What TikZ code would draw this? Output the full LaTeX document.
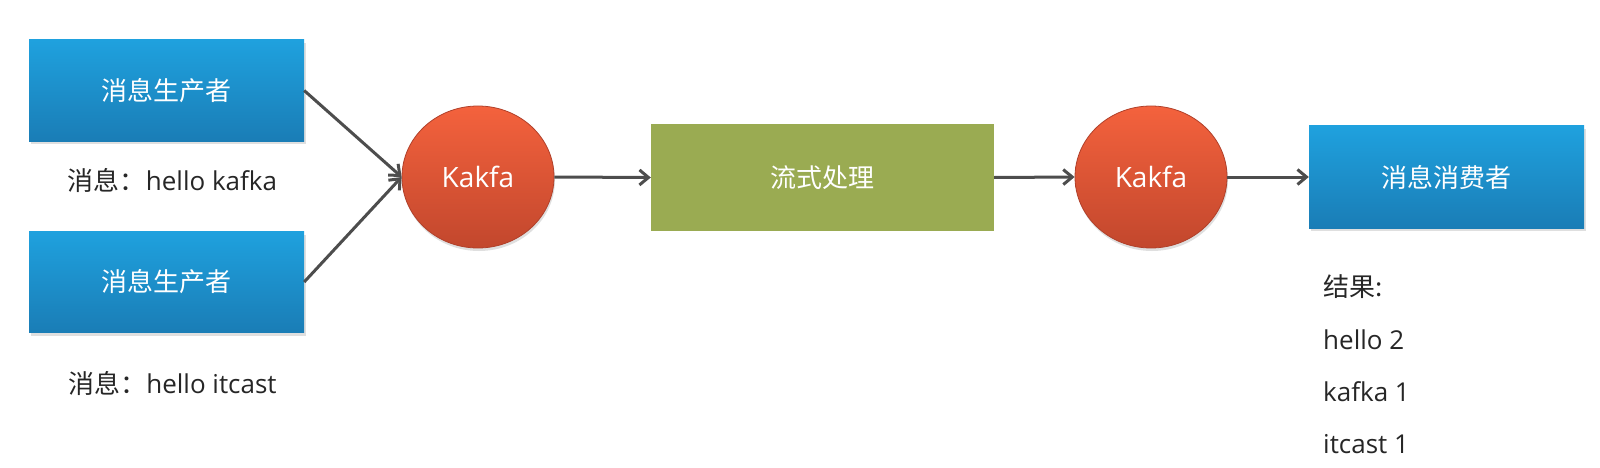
\documentclass[tikz,border=0pt]{standalone}
\usepackage{fontspec}
\setmainfont{Open Sans}
\newfontfamily\cjk{Noto Sans CJK SC}
\usetikzlibrary{arrows.meta,shadows,shapes.geometric}
\definecolor{bluetop}{HTML}{1FA1DE}
\definecolor{bluebot}{HTML}{1A7DB6}
\definecolor{redtop}{HTML}{F4623D}
\definecolor{redbot}{HTML}{C2472D}
\definecolor{rededge}{HTML}{B0402A}
\definecolor{greenbox}{HTML}{9AAB52}
\definecolor{arrowgray}{HTML}{4D4D4D}
\definecolor{txt}{HTML}{262626}
\tikzset{
  bluebox/.style={rectangle, minimum width=275pt, minimum height=101pt, inner sep=0pt,
    top color=bluetop, bottom color=bluebot, text=white,
    font=\cjk\fontsize{26}{31}\selectfont,
    drop shadow={opacity=0.25, shadow xshift=1.5pt, shadow yshift=-3pt}},
  kafkanode/.style={ellipse, minimum width=152pt, minimum height=142pt, inner sep=0pt,
    top color=redtop, bottom color=redbot, draw=rededge, line width=0.8pt, text=white,
    font=\fontsize{28}{33}\selectfont,
    drop shadow={opacity=0.25, shadow xshift=1pt, shadow yshift=-3pt}},
  procbox/.style={rectangle, minimum width=343pt, minimum height=107pt, inner sep=0pt,
    fill=greenbox, text=white, font=\cjk\fontsize{26}{31}\selectfont},
  label/.style={text=txt, inner sep=0pt, font=\fontsize{26}{31}\selectfont},
  flow/.style={draw=arrowgray, line width=3pt,
    -{Straight Barb[length=9pt,width=15pt,line width=3pt]}},
}
\begin{document}
\begin{tikzpicture}[x=1pt,y=-1pt]
\useasboundingbox (0,0) rectangle (1600,468);
\node[bluebox] (p1) at (166.5,90.5) {消息生产者};
\node[bluebox] (p2) at (166.5,282) {消息生产者};
\node[label, anchor=base] (m1) at (172.5,190) {{\cjk 消息：}hello kafka};
\node[label, anchor=base] (m2) at (172.5,393) {{\cjk 消息：}hello itcast};
\node[kafkanode] (k1) at (478,177) {Kakfa};
\node[procbox] (s) at (822.5,177.5) {流式处理};
\node[kafkanode] (k2) at (1151,177) {Kakfa};
\node[bluebox, minimum height=102pt] (c) at (1446.5,177) {消息消费者};
\node[label, anchor=base west] (r0) at (1323,296) {{\cjk 结果:}};
\node[label, anchor=base west] (r1) at (1323,349) {hello 2};
\node[label, anchor=base west] (r2) at (1323,401) {kafka 1};
\node[label, anchor=base west] (r3) at (1323,453) {itcast 1};
\draw[flow] (p1.east) -- (k1.west);
\draw[flow] (p2.east) -- (k1.west);
\draw[flow] (k1.east) -- (s.west);
\draw[flow] (s.east) -- (k2.west);
\draw[flow] (k2.east) -- (c.west);
\end{tikzpicture}
\end{document}
